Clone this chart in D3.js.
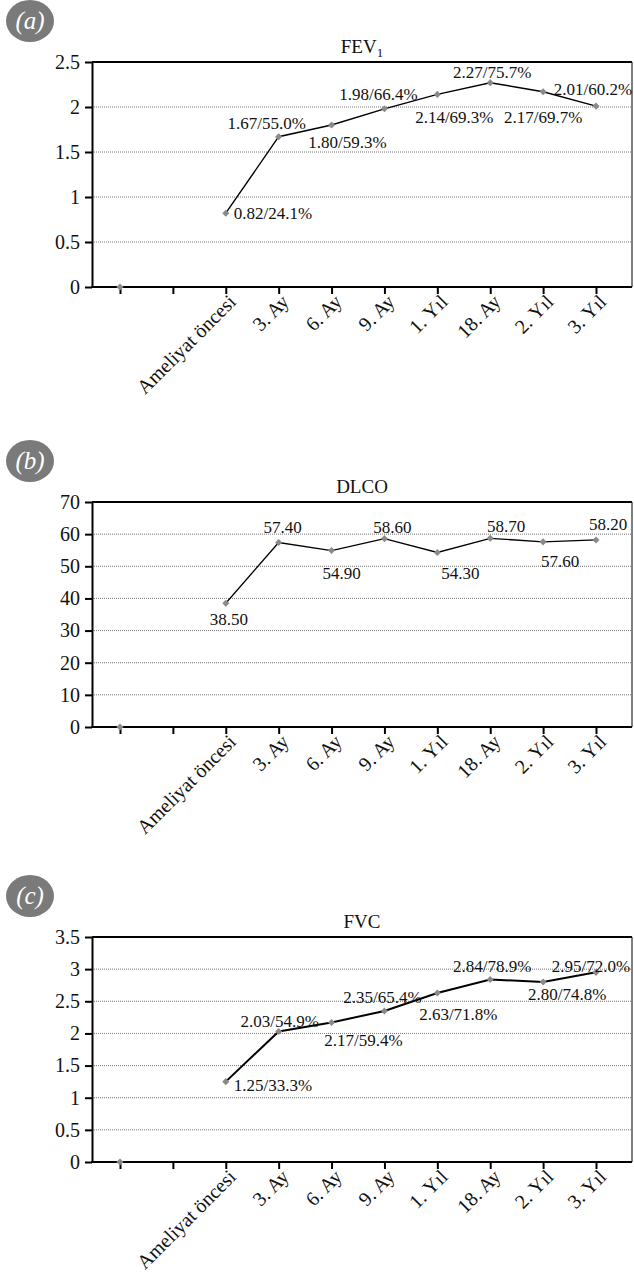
<!DOCTYPE html>
<html>
<head>
<meta charset="utf-8">
<script src="https://cdn.jsdelivr.net/npm/d3@7/dist/d3.min.js"></script>
<style>
  html, body { margin: 0; padding: 0; background: #fff; }
  svg { display: block; }
  text { font-family: "Liberation Serif", "Times New Roman", serif; fill: #111; }
</style>
</head>
<body>
<svg id="chart" width="634" height="1279"></svg>
<script>
// Time points along the x axis (first two slots are unlabeled)
const categories = ["", "", "Ameliyat öncesi", "3. Ay", "6. Ay", "9. Ay", "1. Yıl", "18. Ay", "2. Yıl", "3. Yıl"];

// FEV1 (litres) and percent predicted
const fevValues = [0, null, 0.82, 1.67, 1.80, 1.98, 2.14, 2.27, 2.17, 2.01];
const fevPercent = [null, null, 24.1, 55.0, 59.3, 66.4, 69.3, 75.7, 69.7, 60.2];
const fevTicks = [0, 0.5, 1, 1.5, 2, 2.5];

// DLCO
const dlcoValues = [0, null, 38.5, 57.4, 54.9, 58.6, 54.3, 58.7, 57.6, 58.2];
const dlcoTicks = [0, 10, 20, 30, 40, 50, 60, 70];

// FVC (litres) and percent predicted
const fvcValues = [0, null, 1.25, 2.03, 2.17, 2.35, 2.63, 2.84, 2.80, 2.95];
const fvcPercent = [null, null, 33.3, 54.9, 59.4, 65.4, 71.8, 78.9, 74.8, 72.0];
const fvcTicks = [0, 0.5, 1, 1.5, 2, 2.5, 3, 3.5];

// Label nudges [dx, dy, anchor] relative to each point
const fevLabelNudge = [null, null, [8, 6, "start"], [-12, -8], [16, 23], [-6, -9], [17, 29], [2, -5], [0, 31], [-3, -11]];
const dlcoLabelNudge = [null, null, [3, 22], [4, -10], [10, 28], [8, -6], [23, 27], [16, -6], [17, 25], [12, -10]];
const fvcLabelNudge = [null, null, [8, 9, "start"], [1, -5], [32, 23], [-2, -8], [21, 27], [2, -7], [24, 18], [-5, 0]];

const svg = d3.select("#chart");
const frameLeft = 92, frameRight = 632, plotH = 225;

const x = d3.scalePoint().domain(d3.range(categories.length)).range([120, 596]);

function panel(opts) {
  const { top, badge, title, sub, values, percent, ticks, nudge, lineWidth, fmt } = opts;
  const g = svg.append("g");
  const yMax = ticks[ticks.length - 1];
  const y = d3.scaleLinear().domain([0, yMax]).range([top + plotH, top]);
  const bottom = top + plotH;

  // badge
  g.append("ellipse").attr("cx", 30).attr("cy", top - 41).attr("rx", 24).attr("ry", 21)
    .attr("fill", "#7a7a7a");
  g.append("text").attr("x", 30).attr("y", top - 33).attr("text-anchor", "middle")
    .style("font-style", "italic").style("font-size", "25px").style("fill", "#fff")
    .text(badge);

  // title
  const t = g.append("text").attr("x", 362).attr("y", top - 9).attr("text-anchor", "middle")
    .style("font-size", "19px").text(title);
  if (sub) t.append("tspan").attr("dy", 4).style("font-size", "13px").text(sub);

  // gridlines
  g.append("g").selectAll("line").data(ticks.filter(v => v > 0 && v < yMax)).join("line")
    .attr("x1", frameLeft).attr("x2", frameRight)
    .attr("y1", d => y(d)).attr("y2", d => y(d))
    .attr("stroke", "#777").attr("stroke-width", 1).attr("stroke-dasharray", "1,1");

  // frame: top and right
  g.append("line").attr("x1", frameLeft).attr("x2", frameRight).attr("y1", top).attr("y2", top)
    .attr("stroke", "#000").attr("stroke-width", 2);
  g.append("line").attr("x1", frameRight).attr("x2", frameRight).attr("y1", top).attr("y2", bottom)
    .attr("stroke", "#000").attr("stroke-width", 1);

  // y axis
  const ya = g.append("g").attr("transform", `translate(${frameLeft},0)`)
    .call(d3.axisLeft(y).tickValues(ticks).tickFormat(d => String(d)).tickSize(7).tickSizeOuter(0).tickPadding(5));
  ya.select(".domain").attr("stroke", "#000").attr("stroke-width", 2);
  ya.selectAll(".tick line").attr("stroke", "#000").attr("stroke-width", 2);
  ya.selectAll(".tick text").style("font-size", "20px").style("font-family", "Liberation Serif").attr("fill", "#111");

  // x axis
  const xa = g.append("g").attr("transform", `translate(0,${bottom})`)
    .call(d3.axisBottom(x).tickFormat(i => categories[i]).tickSize(7).tickSizeOuter(0));
  xa.select(".domain").remove();
  g.append("line").attr("x1", frameLeft - 1).attr("x2", frameRight).attr("y1", bottom).attr("y2", bottom)
    .attr("stroke", "#000").attr("stroke-width", 2);
  xa.selectAll(".tick line").attr("stroke", "#000").attr("stroke-width", 2);
  xa.selectAll(".tick text")
    .style("font-size", "20px").style("font-family", "Liberation Serif").attr("fill", "#111")
    .attr("text-anchor", "end").attr("dy", null).attr("y", null)
    .attr("transform", "translate(11,16) rotate(-45)");

  // series line (gap where value is missing)
  const pts = values.map((v, i) => ({ i, v }));
  const line = d3.line().defined(d => d.v !== null).x(d => x(d.i)).y(d => y(d.v));
  g.append("path").datum(pts.filter(d => d.i >= 2)).attr("d", line)
    .attr("fill", "none").attr("stroke", "#000").attr("stroke-width", lineWidth);

  // markers
  g.append("g").selectAll("path").data(pts.filter(d => d.v !== null)).join("path")
    .attr("transform", d => `translate(${x(d.i)},${y(d.v)})`)
    .attr("d", d3.symbol().type(d3.symbolDiamond2).size(32))
    .attr("fill", "#8a8a8a");

  // value labels
  g.append("g").selectAll("text").data(pts.filter(d => nudge[d.i])).join("text")
    .attr("x", d => x(d.i) + nudge[d.i][0])
    .attr("y", d => y(d.v) + nudge[d.i][1])
    .attr("text-anchor", d => nudge[d.i][2] || "middle")
    .style("font-size", "17px")
    .text(d => fmt(d));
}

panel({
  top: 62, badge: "(a)", title: "FEV", sub: "1", values: fevValues, ticks: fevTicks,
  nudge: fevLabelNudge, lineWidth: 1.4,
  fmt: d => `${d.v.toFixed(2)}/${fevPercent[d.i].toFixed(1)}%`
});
panel({
  top: 502, badge: "(b)", title: "DLCO", values: dlcoValues, ticks: dlcoTicks,
  nudge: dlcoLabelNudge, lineWidth: 1.3,
  fmt: d => d.v.toFixed(2)
});
panel({
  top: 937, badge: "(c)", title: "FVC", values: fvcValues, ticks: fvcTicks,
  nudge: fvcLabelNudge, lineWidth: 2,
  fmt: d => `${d.v.toFixed(2)}/${fvcPercent[d.i].toFixed(1)}%`
});
</script>
</body>
</html>
